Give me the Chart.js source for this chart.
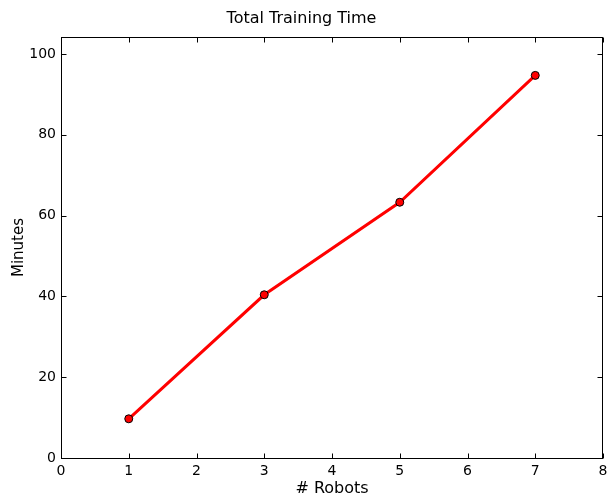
<!DOCTYPE html>
<html>
<head>
<meta charset="utf-8">
<script src="https://cdn.jsdelivr.net/npm/chart.js@4/dist/chart.umd.min.js"></script>
<style>
  html, body { margin: 0; padding: 0; background: #fff; overflow: hidden; }
  #wrap { position: relative; width: 608px; height: 502px; }
</style>
</head>
<body>
<div id="wrap"><canvas id="c"></canvas></div>
<script>
// Training time versus number of robots
const robots = [1, 3, 5, 7];
const minutes = [9.7, 40.4, 63.3, 94.7];
const xTickValues = [0, 1, 2, 3, 4, 5, 6, 7, 8];
const yTickValues = [0, 20, 40, 60, 80, 100];
const xRange = [0, 8];
const yRange = [0, 104.2];

const FONT = 'DejaVu Sans';

// Black frame around the plot area with inward-facing tick marks on all four sides
const frameTicks = {
  id: 'frameTicks',
  afterDraw(chart) {
    const { ctx, chartArea: a, scales } = chart;
    const len = 5;
    const L = Math.round(a.left) + 0.5, R = Math.round(a.right) - 0.5;
    const T = Math.round(a.top) + 0.5, B = Math.round(a.bottom) + 0.5;
    ctx.save();
    ctx.strokeStyle = '#000';
    ctx.lineWidth = 1;
    ctx.strokeRect(L, T, R - L, B - T);
    ctx.beginPath();
    xTickValues.forEach(v => {
      const x = Math.round(scales.x.getPixelForValue(v)) + 0.5;
      ctx.moveTo(x, B); ctx.lineTo(x, B - len);
      ctx.moveTo(x, T); ctx.lineTo(x, T + len);
    });
    yTickValues.forEach(v => {
      const y = Math.round(scales.y.getPixelForValue(v)) + 0.5;
      ctx.moveTo(L, y); ctx.lineTo(L + len, y);
      ctx.moveTo(R, y); ctx.lineTo(R - len, y);
    });
    ctx.stroke();
    ctx.restore();
  }
};

new Chart(document.getElementById('c'), {
  type: 'scatter',
  data: {
    datasets: [{
      data: robots.map((r, i) => ({ x: r, y: minutes[i] })),
      showLine: true,
      borderColor: '#ff0000',
      borderWidth: 3,
      backgroundColor: '#ff0000',
      pointBackgroundColor: '#ff0000',
      pointBorderColor: '#000000',
      pointBorderWidth: 1,
      pointRadius: 4,
      tension: 0
    }]
  },
  options: {
    responsive: true,
    maintainAspectRatio: false,
    animation: false,
    layout: { padding: { left: 0, right: 5, top: 0, bottom: 0 } },
    plugins: {
      legend: { display: false },
      tooltip: { enabled: false },
      title: {
        display: true,
        text: 'Total Training Time',
        color: '#000',
        font: { family: FONT, size: 16, weight: 'normal', lineHeight: 1.2 },
        padding: { top: 9, bottom: 8.8 }
      }
    },
    scales: {
      x: {
        type: 'linear',
        min: xRange[0],
        max: xRange[1],
        afterBuildTicks(scale) { scale.ticks = xTickValues.map(v => ({ value: v })); },
        afterFit(scale) { scale.height = 44; scale.paddingLeft = 0; scale.paddingRight = 0; },
        grid: { display: false, drawTicks: false },
        border: { display: false },
        ticks: {
          color: '#000',
          padding: 5,
          maxRotation: 0,
          autoSkip: false,
          font: { family: FONT, size: 14 },
          callback: v => String(v)
        },
        title: {
          display: true,
          text: '# Robots',
          color: '#000',
          font: { family: FONT, size: 16 },
          padding: { top: 0, bottom: 3.7 }
        }
      },
      y: {
        type: 'linear',
        min: yRange[0],
        max: yRange[1],
        afterBuildTicks(scale) { scale.ticks = yTickValues.map(v => ({ value: v })); },
        afterFit(scale) { scale.width = 61; scale.paddingTop = 0; scale.paddingBottom = 0; },
        grid: { display: false, drawTicks: false },
        border: { display: false },
        ticks: {
          color: '#000',
          padding: 5,
          autoSkip: false,
          font: { family: FONT, size: 14 },
          callback: v => String(v)
        },
        title: {
          display: true,
          text: 'Minutes',
          color: '#000',
          font: { family: FONT, size: 15 },
          padding: { top: 9.8, bottom: 0 }
        }
      }
    }
  },
  plugins: [frameTicks]
});
</script>
</body>
</html>
